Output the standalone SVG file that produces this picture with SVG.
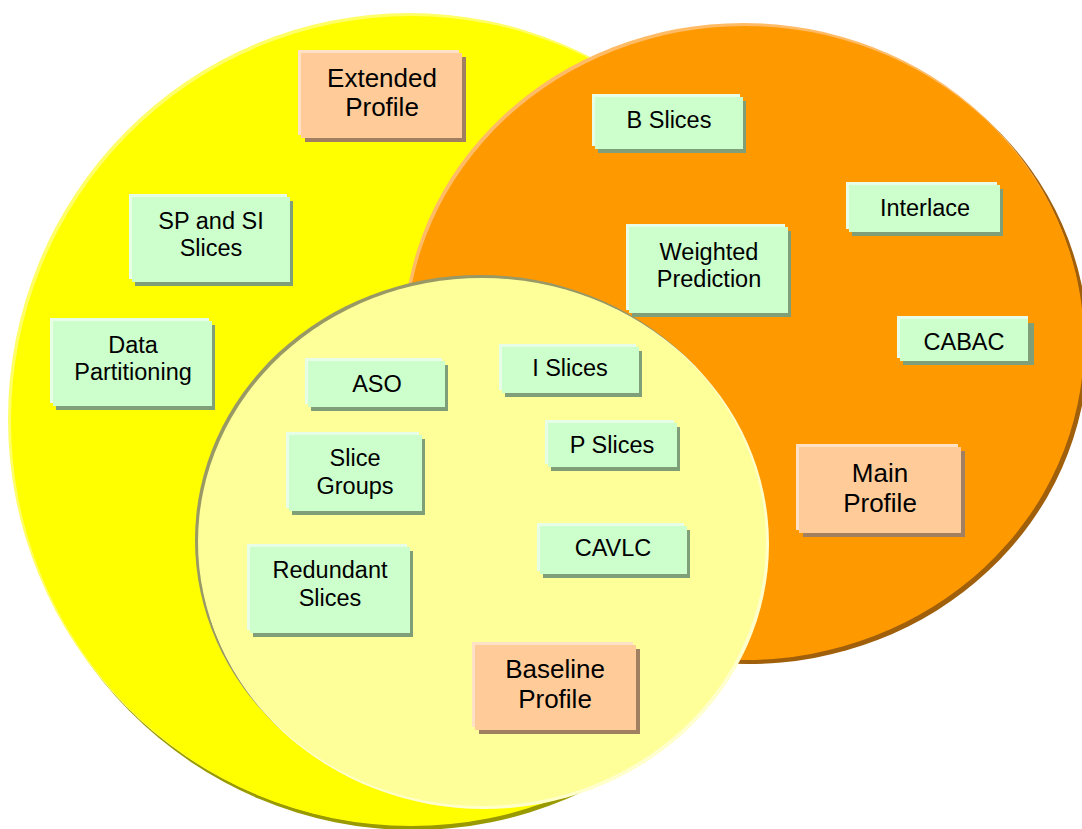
<svg xmlns="http://www.w3.org/2000/svg" width="1082" height="829" viewBox="0 0 1082 829">
  <style>
    text { font-family: "Liberation Sans", Arial, Helvetica, sans-serif; fill: #000; text-anchor: middle; }
    .feat text { font-size: 23.5px; }
    .prof text { font-size: 26px; }
    .feat .hl { fill: #E6FFE6; }
    .feat .sh { fill: #7F9F78; }
    .feat .bx { fill: #CCFFCC; }
    .prof .hl { fill: #FFE2C6; }
    .prof .sh { fill: #A08060; }
    .prof .bx { fill: #FFCC99; }
  </style>

  <!-- Extended profile set -->
  <g id="set-extended">
    <ellipse cx="413" cy="424" rx="401" ry="406" fill="#999900"/>
    <ellipse cx="409" cy="419" rx="401" ry="406" fill="#FFFF66"/>
    <ellipse cx="411" cy="421" rx="400" ry="405" fill="#FFFF00"/>
  </g>

  <!-- Main profile set -->
  <g id="set-main">
    <ellipse cx="748" cy="346" rx="340" ry="318" fill="#A05F0A"/>
    <ellipse cx="743" cy="341" rx="340" ry="318" fill="#FFBB66"/>
    <ellipse cx="745" cy="343" rx="339" ry="317" fill="#FF9900"/>
  </g>

  <!-- Baseline profile set -->
  <g id="set-baseline">
    <ellipse cx="480" cy="540" rx="285" ry="265" fill="#999966"/>
    <ellipse cx="484" cy="544" rx="285" ry="265" fill="#FFFFCC"/>
    <ellipse cx="482" cy="542" rx="284" ry="264" fill="#FFFF99"/>
  </g>

  <!-- Profile labels -->
  <g id="extended-profile" class="prof">
    <rect class="hl" x="298" y="50" width="161" height="85"/>
    <rect class="sh" x="305" y="57" width="161" height="85"/>
    <rect class="bx" x="301" y="53" width="161" height="85"/>
    <text x="382" y="87">Extended</text>
    <text x="382" y="116">Profile</text>
  </g>

  <g id="main-profile" class="prof">
    <rect class="hl" x="796" y="444" width="162" height="86"/>
    <rect class="sh" x="803" y="451" width="162" height="86"/>
    <rect class="bx" x="799" y="447" width="162" height="86"/>
    <text x="880" y="482">Main</text>
    <text x="880" y="512">Profile</text>
  </g>

  <g id="baseline-profile" class="prof">
    <rect class="hl" x="472" y="642" width="161" height="85"/>
    <rect class="sh" x="479" y="649" width="161" height="85"/>
    <rect class="bx" x="475" y="645" width="161" height="85"/>
    <text x="555" y="678">Baseline</text>
    <text x="555" y="708">Profile</text>
  </g>

  <!-- Feature labels -->
  <g id="b-slices" class="feat">
    <rect class="hl" x="592" y="94" width="148" height="52"/>
    <rect class="sh" x="598" y="101" width="148" height="52"/>
    <rect class="bx" x="595" y="97" width="148" height="52"/>
    <text x="669" y="128">B Slices</text>
  </g>

  <g id="interlace" class="feat">
    <rect class="hl" x="846" y="182" width="151" height="47"/>
    <rect class="sh" x="852" y="189" width="151" height="47"/>
    <rect class="bx" x="849" y="185" width="151" height="47"/>
    <text x="925" y="216">Interlace</text>
  </g>

  <g id="weighted-prediction" class="feat">
    <rect class="hl" x="626" y="224" width="159" height="86"/>
    <rect class="sh" x="632" y="231" width="159" height="86"/>
    <rect class="bx" x="629" y="227" width="159" height="86"/>
    <text x="709" y="260">Weighted</text>
    <text x="709" y="287">Prediction</text>
  </g>

  <g id="cabac" class="feat">
    <rect class="hl" x="897" y="316" width="131" height="42"/>
    <rect class="sh" x="903" y="323" width="131" height="42"/>
    <rect class="bx" x="900" y="319" width="128" height="42"/>
    <text x="964" y="350">CABAC</text>
  </g>

  <g id="sp-si-slices" class="feat">
    <rect class="hl" x="129" y="194" width="158" height="85"/>
    <rect class="sh" x="135" y="201" width="158" height="85"/>
    <rect class="bx" x="132" y="197" width="158" height="85"/>
    <text x="211" y="229">SP and SI</text>
    <text x="211" y="256">Slices</text>
  </g>

  <g id="data-partitioning" class="feat">
    <rect class="hl" x="50" y="318" width="159" height="85"/>
    <rect class="sh" x="56" y="325" width="159" height="85"/>
    <rect class="bx" x="53" y="321" width="159" height="85"/>
    <text x="133" y="353">Data</text>
    <text x="133" y="380">Partitioning</text>
  </g>

  <g id="aso" class="feat">
    <rect class="hl" x="305" y="358" width="137" height="46"/>
    <rect class="sh" x="311" y="365" width="137" height="46"/>
    <rect class="bx" x="308" y="361" width="137" height="46"/>
    <text x="377" y="392">ASO</text>
  </g>

  <g id="i-slices" class="feat">
    <rect class="hl" x="499" y="344" width="137" height="46"/>
    <rect class="sh" x="505" y="351" width="137" height="46"/>
    <rect class="bx" x="502" y="347" width="137" height="46"/>
    <text x="570" y="376">I Slices</text>
  </g>

  <g id="p-slices" class="feat">
    <rect class="hl" x="545" y="420" width="129" height="44"/>
    <rect class="sh" x="551" y="427" width="129" height="44"/>
    <rect class="bx" x="548" y="423" width="129" height="44"/>
    <text x="612" y="453">P Slices</text>
  </g>

  <g id="slice-groups" class="feat">
    <rect class="hl" x="286" y="432" width="133" height="76"/>
    <rect class="sh" x="292" y="439" width="133" height="76"/>
    <rect class="bx" x="289" y="435" width="133" height="76"/>
    <text x="355" y="466">Slice</text>
    <text x="355" y="494">Groups</text>
  </g>

  <g id="cavlc" class="feat">
    <rect class="hl" x="537" y="523" width="147" height="48"/>
    <rect class="sh" x="543" y="530" width="147" height="48"/>
    <rect class="bx" x="540" y="526" width="147" height="48"/>
    <text x="613" y="556">CAVLC</text>
  </g>

  <g id="redundant-slices" class="feat">
    <rect class="hl" x="247" y="544" width="160" height="86"/>
    <rect class="sh" x="253" y="551" width="160" height="86"/>
    <rect class="bx" x="250" y="547" width="160" height="86"/>
    <text x="330" y="578">Redundant</text>
    <text x="330" y="606">Slices</text>
  </g>

  <!-- no connectors in this diagram -->
  <g id="connectors"/>
</svg>
